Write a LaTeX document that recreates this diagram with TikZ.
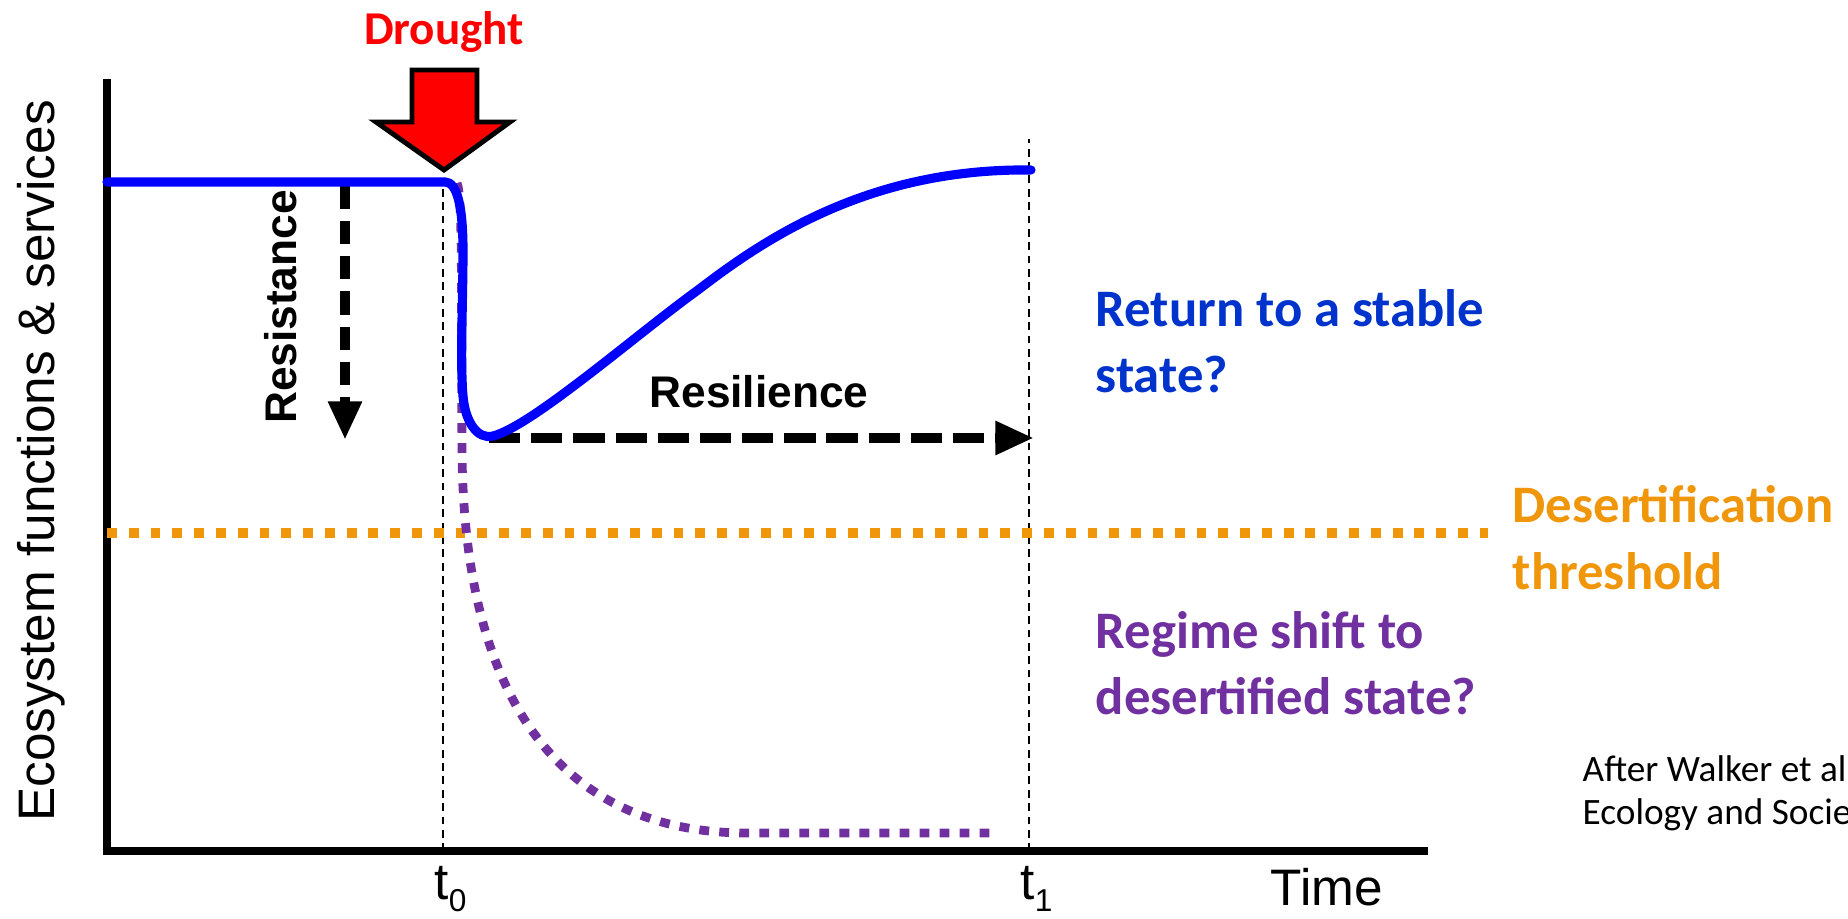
\documentclass[tikz,border=0pt]{standalone}
\usepackage{fontspec}
\setmainfont{Liberation Sans}
\newfontfamily\calibri{Carlito}
\usetikzlibrary{arrows.meta}

\definecolor{curveblue}{RGB}{0,0,255}
\definecolor{textblue}{RGB}{0,51,204}
\definecolor{shiftpurple}{RGB}{112,48,160}
\definecolor{threshorange}{RGB}{240,150,10}
\definecolor{droughtred}{RGB}{255,0,0}

\begin{document}
\begin{tikzpicture}[
  axisline/.style={line width=2.5pt, line join=miter},
  tline/.style={line width=0.5pt, dash pattern=on 2.2pt off 1.6pt},
  recovery/.style={line width=2.6pt, curveblue, line cap=round},
  collapse/.style={line width=2.5pt, shiftpurple, dash pattern=on 2.8pt off 2.9pt},
  threshline/.style={line width=2.8pt, threshorange, dash pattern=on 2.8pt off 3.4pt},
  arr/.style={-{Triangle[length=11pt, width=9pt]}, line width=2.8pt},
  lbl/.style={font=\bfseries\fontsize{12.6}{15}\selectfont, inner sep=0pt},
  note/.style={font=\calibri\bfseries\fontsize{15}{18.8}\selectfont,
               align=left, anchor=base west, inner sep=0pt},
  ticklbl/.style={font=\fontsize{14.6}{17}\selectfont, inner sep=0pt},
]
\useasboundingbox (-1.07,-0.67) rectangle (17.41,8.51);

%% AXES
\coordinate (O)  at (0,0);
\coordinate (t0) at (3.36,0);
\coordinate (t1) at (9.22,0);
\draw[tline] (t0) -- ++(0,6.62);
\draw[tline] (t1) -- ++(0,7.12);
\draw[axisline] (0,7.72) -- (O) -- (13.21,0);

%% THRESHOLD
\draw[threshline] (0,3.18) -- (13.81,3.18);

%% REGIME SHIFT (dotted)
\draw[collapse] (3.50,6.68) .. controls (3.56,6.55) and (3.54,5.5) .. (3.55,4.0)
  .. controls (3.57,1.3) and (4.7,0.18) .. (6.4,0.18) -- (8.91,0.18);

%% RESISTANCE / RESILIENCE
\draw[arr, dash pattern=on 6.6pt off 3.4pt] (2.38,6.65) -- (2.38,4.11);
\draw[arr, dash pattern=on 8.9pt off 3.1pt] (3.82,4.13) -- (9.27,4.13);

%% RECOVERY CURVE
\draw[recovery] (0,6.69) -- (3.38,6.69)
  .. controls (3.50,6.69) and (3.56,6.45) .. (3.56,6.0)
  .. controls (3.56,5.5) and (3.53,4.9) .. (3.56,4.55)
  .. controls (3.58,4.30) and (3.70,4.11) .. (3.86,4.15)
  .. controls (4.25,4.25) and (5.30,5.17) .. (5.91,5.61)
  .. controls (6.55,6.10) and (7.60,6.83) .. (9.24,6.81);

%% DROUGHT ARROW
\draw[fill=droughtred, line width=1.4pt, line join=miter]
  (3.05,7.81) -- (3.70,7.81) -- (3.70,7.29) -- (4.03,7.29) -- (3.37,6.81)
  -- (2.69,7.29) -- (3.05,7.29) -- cycle;
\node[font=\calibri\bfseries\fontsize{13.4}{16}\selectfont, text=droughtred,
      anchor=base, inner sep=0pt] (drought) at (3.37,8.06) {Drought};

%% LABELS
\node[lbl, rotate=90, anchor=base] (resist) at (1.89,5.44) {Resistance};
\node[lbl, anchor=base] (resil) at (6.52,4.43) {Resilience};

\node[note, text=textblue] (stable) at (9.88,4.58) {Return to a stable\\state?};
\node[note, text=threshorange] (desert) at (14.05,2.62) {Desertification\\threshold};
\node[note, text=shiftpurple] (shift) at (9.88,1.36) {Regime shift to\\desertified state?};

\node[font=\calibri\fontsize{10.6}{12}\selectfont, align=left, anchor=base west,
      inner sep=0pt] (cite) at (14.75,0.27) {After Walker et al\\Ecology and Socie};

%% AXIS TEXT
\node[ticklbl, rotate=90, anchor=base] (ylbl) at (-0.52,3.90) {Ecosystem functions \& services};
\node[ticklbl, anchor=base] (time) at (12.20,-0.54) {Time};
\node[ticklbl, anchor=base west] (t0lbl) at (3.27,-0.48)
  {t\raisebox{-3.6pt}{\fontsize{9}{9}\selectfont 0}};
\node[ticklbl, anchor=base west] (t1lbl) at (9.13,-0.48)
  {t\raisebox{-3.6pt}{\fontsize{9}{9}\selectfont 1}};
\end{tikzpicture}
\end{document}
